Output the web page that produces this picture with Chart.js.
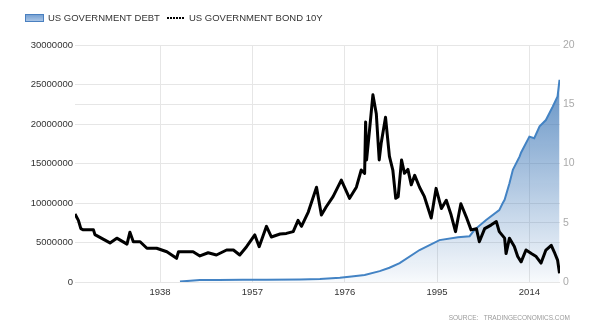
<!DOCTYPE html>
<html>
<head>
<meta charset="utf-8">
<script src="https://cdn.jsdelivr.net/npm/chart.js@4.4.0/dist/chart.umd.min.js"></script>
<style>
  html, body { margin: 0; padding: 0; background: #fff; }
  #wrap { width: 605px; height: 331px; position: relative; }
</style>
</head>
<body>
<div id="wrap"><canvas id="debtChart"></canvas></div>
<script>
// x axis labels (years)
var xTickYears = [1938, 1957, 1976, 1995, 2014];

// US government debt (USD million), left axis
var debtYears = [1942.1, 1944.2, 1946.2, 1950, 1955, 1960, 1966.8, 1970.9, 1975.0, 1977.4, 1980.1, 1983.2, 1985.2, 1987.3,
  1991.4, 1995.5, 1999.3, 2001.7, 2002.7, 2005.1, 2007.8, 2008.5, 2008.9, 2009.9, 2010.6, 2012.0, 2012.3,
  2014.0, 2015.0, 2016.1, 2017.4, 2018.8, 2019.8, 2020.2];
var debtValues = [50000, 150000, 260000, 255000, 272000, 285000, 320000, 370000, 530000, 700000, 900000, 1380000, 1800000, 2400000,
  4050000, 5300000, 5660000, 5800000, 6600000, 7850000, 9100000, 9960000, 10400000, 12500000, 14200000, 15900000, 16400000,
  18400000, 18200000, 19700000, 20500000, 22200000, 23500000, 25600000];

// US government bond 10Y yield (%), right axis
var bondYears = [1920.5, 1921.2, 1921.7, 1922.2, 1924.3, 1924.6, 1927.7, 1929.1, 1931.2, 1931.8, 1932.5, 1933.9, 1935.3, 1937.3,
  1939.4, 1941.4, 1941.8, 1944.8, 1946.2, 1947.9, 1949.6, 1951.7, 1953.1, 1954.4, 1955.8, 1957.5, 1958.4, 1959.9,
  1960.9, 1962.7, 1964.0, 1965.4, 1966.4, 1967.1, 1968.5, 1970.2, 1971.2, 1972.2, 1973.6, 1975.3, 1977.0, 1978.4,
  1979.4, 1980.1, 1980.3, 1980.5, 1981.1, 1981.8, 1982.5, 1983.1, 1983.5, 1984.4, 1985.2, 1985.9, 1986.5, 1987.0,
  1987.7, 1988.3, 1989.0, 1989.7, 1990.4, 1991.4, 1992.4, 1993.8, 1994.8, 1995.9, 1996.9, 1997.9, 1998.8, 1999.9,
  2001.0, 2002.0, 2003.1, 2003.7, 2004.8, 2006.1, 2007.2, 2007.8, 2008.9, 2009.2, 2009.9, 2010.9, 2011.6, 2012.3,
  2013.3, 2014.4, 2015.4, 2016.4, 2017.4, 2018.5, 2019.1, 2019.8, 2020.2];
var bondValues = [5.74, 5.2, 4.5, 4.4, 4.4, 4.0, 3.3, 3.7, 3.2, 4.2, 3.4, 3.4, 2.85, 2.85,
  2.55, 2.0, 2.55, 2.55, 2.2, 2.47, 2.28, 2.7, 2.7, 2.28, 2.98, 3.97, 2.98, 4.7,
  3.8, 4.05, 4.1, 4.25, 5.2, 4.7, 5.9, 8.0, 5.65, 6.35, 7.2, 8.6, 7.06, 8.0,
  9.45, 9.17, 13.5, 10.3, 12.8, 15.8, 14.2, 10.3, 11.7, 13.9, 10.6, 9.45, 7.06, 7.2,
  10.3, 9.17, 9.5, 8.2, 9.0, 8.0, 7.2, 5.4, 7.9, 6.2, 6.9, 5.65, 4.25, 6.6,
  5.5, 4.4, 4.5, 3.4, 4.5, 4.8, 5.1, 4.25, 3.7, 2.4, 3.7, 3.0, 2.15, 1.7,
  2.7, 2.4, 2.15, 1.6, 2.7, 3.1, 2.55, 1.85, 0.73];

function toPoints(xs, ys) {
  return xs.map(function (x, i) { return { x: x, y: ys[i] }; });
}

var legendAndSource = {
  id: 'legendAndSource',
  afterDraw: function (chart) {
    var c = chart.ctx;
    c.save();
    // debt legend box
    var g = c.createLinearGradient(0, 14, 0, 21);
    g.addColorStop(0, '#6f9bcf');
    g.addColorStop(1, '#a9c5e6');
    c.fillStyle = g;
    c.fillRect(25.5, 14.5, 18, 7);
    c.strokeStyle = '#4a80c0';
    c.lineWidth = 1;
    c.strokeRect(25.5, 14.5, 18, 7);
    c.font = '9.5px "Liberation Sans", Arial, sans-serif';
    c.fillStyle = '#333';
    c.textBaseline = 'middle';
    c.fillText('US GOVERNMENT DEBT', 48, 18.5);
    // bond legend dots
    c.fillStyle = '#000';
    for (var x = 167; x <= 183; x += 3) {
      c.fillRect(x, 17, 2, 2);
    }
    c.fillStyle = '#333';
    c.fillText('US GOVERNMENT BOND 10Y', 189, 18.5);
    // source
    c.font = '6.5px "Liberation Sans", Arial, sans-serif';
    c.fillStyle = '#9a9a9a';
    c.textAlign = 'right';
    c.fillText('SOURCE:   TRADINGECONOMICS.COM', 570, 318);
    c.restore();
  }
};

var gridColor = '#e6e6e6';
var tickFont = { family: '"Liberation Sans", Arial, sans-serif', size: 9.5 };

var ctx = document.getElementById('debtChart').getContext('2d');
var chart = new Chart(ctx, {
  type: 'line',
  data: {
    datasets: [{
      label: 'US GOVERNMENT BOND 10Y',
      data: toPoints(bondYears, bondValues),
      yAxisID: 'y1',
      borderColor: '#000',
      borderWidth: 3,
      borderJoinStyle: 'round',
      pointRadius: 0,
      fill: false,
      tension: 0
    }, {
      label: 'US GOVERNMENT DEBT',
      data: toPoints(debtYears, debtValues),
      yAxisID: 'y',
      borderColor: '#4383c4',
      borderWidth: 2,
      pointRadius: 0,
      tension: 0,
      fill: 'origin',
      backgroundColor: function (context) {
        var area = context.chart.chartArea;
        if (!area) return 'rgba(60,118,182,0.4)';
        var g = context.chart.ctx.createLinearGradient(0, area.top, 0, area.bottom);
        g.addColorStop(0, 'rgba(60,118,182,0.92)');
        g.addColorStop(1, 'rgba(60,118,182,0.04)');
        return g;
      }
    }]
  },
  options: {
    responsive: true,
    maintainAspectRatio: false,
    animation: false,
    layout: { padding: { top: 45, left: 0, right: 0, bottom: 0 } },
    plugins: {
      legend: { display: false },
      tooltip: { enabled: false }
    },
    scales: {
      x: {
        type: 'linear',
        min: 1920.5,
        max: 2020.3,
        afterBuildTicks: function (scale) {
          scale.ticks = xTickYears.map(function (v) { return { value: v }; });
        },
        afterFit: function (scale) { scale.height = 49; },
        border: { display: false },
        grid: { color: gridColor, drawTicks: false },
        ticks: {
          padding: 5,
          color: '#333',
          font: tickFont,
          maxRotation: 0,
          callback: function (v) { return String(v); }
        }
      },
      y: {
        position: 'left',
        min: 0,
        max: 30000000,
        afterFit: function (scale) { scale.width = 75; },
        border: { display: false },
        grid: { color: gridColor, drawTicks: false },
        ticks: {
          stepSize: 5000000,
          padding: 2,
          color: '#333',
          font: tickFont,
          callback: function (v) { return String(v); }
        }
      },
      y1: {
        position: 'right',
        min: 0,
        max: 20,
        afterFit: function (scale) { scale.width = 45; },
        border: { display: false },
        grid: { color: gridColor, drawTicks: false },
        ticks: {
          stepSize: 5,
          padding: 3,
          color: '#aaa',
          font: { family: '"Liberation Sans", Arial, sans-serif', size: 10.5 },
          callback: function (v) { return String(v); }
        }
      }
    }
  },
  plugins: [legendAndSource]
});
</script>
</body>
</html>
